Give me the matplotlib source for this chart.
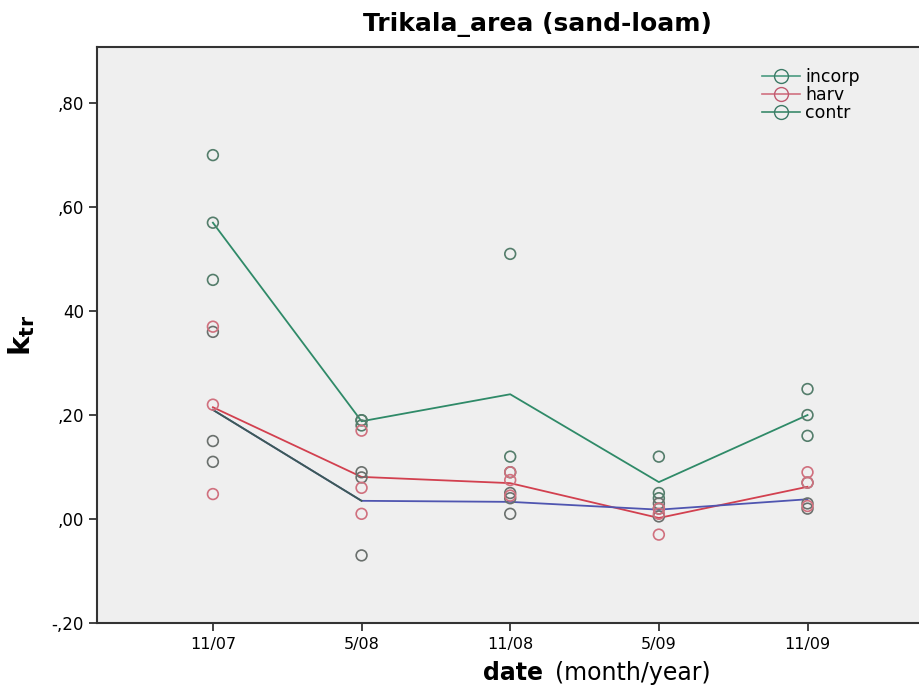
import matplotlib
matplotlib.use("Agg")
import matplotlib.pyplot as plt
from matplotlib.lines import Line2D
import numpy as np

plt.rcParams["font.family"] = ["DejaVu Sans"]

dates = ["11/07", "5/08", "11/08", "5/09", "11/09"]

# replicate values per date
contr_pts = [[0.70, 0.57, 0.46], [0.19, 0.19, 0.18], [0.51, 0.12, 0.09],
             [0.12, 0.05, 0.04], [0.25, 0.20, 0.16]]
harv_pts = [[0.37, 0.22, 0.048], [0.17, 0.06, 0.01], [0.09, 0.075, 0.045],
            [0.02, 0.01, -0.03], [0.09, 0.07, 0.025]]
incorp_pts = [[0.36, 0.15, 0.11], [0.09, 0.08, -0.07], [0.05, 0.04, 0.01],
              [0.03, 0.02, 0.005], [0.07, 0.03, 0.02]]

# mean lines
contr_mean = [0.57, 0.188, 0.24, 0.071, 0.20]
harv_mean = [0.215, 0.081, 0.069, 0.002, 0.062]
incorp_mean = [0.21, 0.035, 0.033, 0.018, 0.038]

yticks = [-0.20, 0.0, 0.20, 0.40, 0.60, 0.80]
ytick_labels = ["-,20", ",00", ",20", "40", ",60", ",80"]

C_CONTR_LINE = "#2f8a68"
C_HARV_LINE = "#d2404f"
C_INC_LINE = "#4f55b0"
C_GREEN_PT = "#547d6b"
C_GRAY_PT = "#6a706d"
C_PINK_PT = "#d0707e"

fig = plt.figure(figsize=(9.19, 6.88), dpi=100)
ax = fig.add_axes([0.1055, 0.0945, 0.8945, 0.8372])
ax.set_facecolor("#efefef")

x = np.arange(len(dates))
for pts, col in [(contr_pts, C_GREEN_PT), (incorp_pts, C_GRAY_PT), (harv_pts, C_PINK_PT)]:
    for i, vals in enumerate(pts):
        ax.scatter([x[i]] * len(vals), vals, s=60, facecolors="none",
                   edgecolors=col, linewidths=1.2, zorder=3)

ax.plot(x, contr_mean, color=C_CONTR_LINE, lw=1.3, zorder=2)
ax.plot(x, harv_mean, color=C_HARV_LINE, lw=1.3, zorder=2)
ax.plot(x, incorp_mean, color=C_INC_LINE, lw=1.3, zorder=2)
# first segment of incorp is drawn darker in the original
ax.plot(x[:2], incorp_mean[:2], color="#3d5a55", lw=1.3, zorder=2)

ax.set_xlim(-0.78, 4.75)
ax.set_ylim(-0.20, 0.908)
ax.set_xticks(x)
ax.set_xticklabels(dates, fontsize=11.5)
ax.set_yticks(yticks)
ax.set_yticklabels(ytick_labels, fontsize=12)
ax.tick_params(axis="both", direction="out", length=6, width=1.2, color="#222222")
ax.tick_params(axis="x", pad=4)
for side in ["left", "bottom", "top"]:
    ax.spines[side].set_linewidth(1.5)
    ax.spines[side].set_color("#333333")
ax.spines["right"].set_visible(False)

ax.set_ylabel(r"$\mathbf{k_{tr}}$", fontsize=21, labelpad=10)

fig.text(0.591, 0.012, "date", fontsize=17, fontweight="bold", ha="right")
fig.text(0.604, 0.012, "(month/year)", fontsize=17, ha="left")
fig.text(0.585, 0.955, "Trikala_area (sand-loam)", fontsize=18,
         fontweight="bold", ha="center")

handles = [
    Line2D([], [], color="#4a9a80", marker="o", mfc="none", mec="#3c7a66", ms=10, lw=1.2),
    Line2D([], [], color="#d07080", marker="o", mfc="none", mec="#c05a70", ms=10, lw=1.2),
    Line2D([], [], color="#3a8a6a", marker="o", mfc="none", mec="#3c7a66", ms=10, lw=1.2),
]
ax.legend(handles, ["incorp", "harv", "contr"], loc="upper left",
          bbox_to_anchor=(0.79, 0.99), frameon=False, fontsize=12.5,
          handlelength=2.2, handletextpad=0.3, labelspacing=0.0)

fig.savefig("out.png", dpi=100)
